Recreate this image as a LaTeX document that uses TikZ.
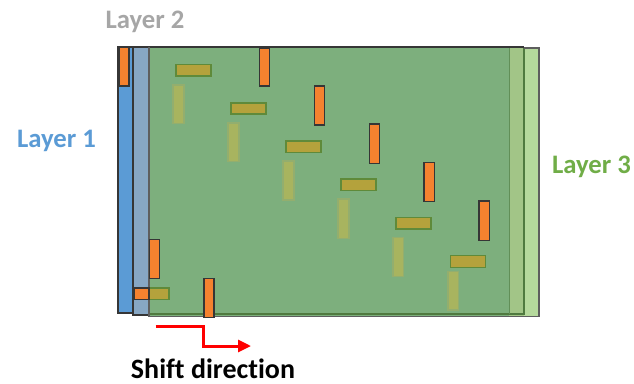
\documentclass[tikz,border=0pt]{standalone}
\usepackage{fontspec}
\setmainfont{Carlito}[Ligatures=NoCommon]
\usetikzlibrary{arrows.meta}
\definecolor{lblue}{HTML}{5B9BD5}
\definecolor{lgrey}{HTML}{87A7C4}
\definecolor{gmain}{HTML}{7DAF7D}
\definecolor{gmid}{HTML}{A2C587}
\definecolor{glight}{HTML}{B5D99C}
\definecolor{orng}{HTML}{F5822F}
\definecolor{olive}{HTML}{B4A23C}
\definecolor{oliveb}{HTML}{5F8A3A}
\definecolor{faint}{HTML}{A8B45F}
\definecolor{faintb}{HTML}{93AE6E}
\definecolor{edge}{HTML}{363636}
\definecolor{gedge}{HTML}{4F7A3F}
\definecolor{txtgrey}{HTML}{A6A6A6}
\definecolor{txtgreen}{HTML}{70AD47}
\tikzset{
  bar/.style={fill=orng,draw=edge,line width=1.4pt},
  hbar/.style={fill=olive,draw=oliveb,line width=1.2pt},
  fbar/.style={fill=faint,draw=faintb,line width=1.2pt},
  lbl/.style={font=\bfseries\fontsize{26.7}{30}\selectfont,anchor=base,inner sep=0pt},
}
\begin{document}
\begin{tikzpicture}[x=1pt,y=-1pt]
\useasboundingbox (0,0) rectangle (634,383);
% layer regions
\fill[lblue] (118,47) rectangle (133,313);
\fill[lgrey] (133,47) rectangle (149,315);
\fill[gmain] (149,47) rectangle (509,316);
\fill[gmid] (509,47) rectangle (524,316);
\fill[glight] (524,48) rectangle (539,316);
% orange bar on layer 1 (exposed)
\draw[bar] (119,47) rectangle (129,86);
% layer outlines
\draw[edge,line width=1.4pt] (118,47) rectangle (133,313);
\draw[edge,line width=1.4pt] (133,47) rectangle (149,315);
\draw[gedge,line width=1.2pt] (149,314) -- (524,314) -- (524,47);
\draw[gedge!60!gmain,line width=0.6pt] (509,47) -- (509,314);
\draw[edge,line width=1.4pt] (118,47) -- (524,47);
\draw[edge!80,line width=1.4pt] (524,48) -- (539,48) -- (539,316.5) -- (149,316.5) -- (149,47);
% faint bars (layer 1, beneath)
\draw[fbar] (173,85) rectangle (184,123.5);
\draw[fbar] (228,123) rectangle (239,161.5);
\draw[fbar] (283,161) rectangle (294,200);
\draw[fbar] (338,199) rectangle (349,238.5);
\draw[fbar] (393,237.5) rectangle (403.5,276.5);
\draw[fbar] (448,271.5) rectangle (458.5,310);
% olive bars (layer 2)
\draw[hbar] (176,64.5) rectangle (211,76);
\draw[hbar] (231,103) rectangle (266,114);
\draw[hbar] (286,141) rectangle (321,152.5);
\draw[hbar] (341,179) rectangle (376,190.5);
\draw[hbar] (396,217.5) rectangle (431,229);
\draw[hbar] (450.5,255.7) rectangle (485.7,267.3);
\fill[olive] (149,288) rectangle (169,299.5);
\draw[oliveb,line width=1.2pt] (149,288) -- (169,288) -- (169,299.5) -- (149,299.5);
\draw[bar] (134,288) rectangle (149,299.5);
% orange bars (layer 3, top)
\draw[bar] (259.5,48) rectangle (269.5,86);
\draw[bar] (314.5,86) rectangle (324.5,125);
\draw[bar] (369.3,124) rectangle (379.7,163.3);
\draw[bar] (424,162.5) rectangle (434.7,201.7);
\draw[bar] (479,201) rectangle (489.7,240.3);
\draw[bar] (149.5,239.5) rectangle (159.3,278.3);
\draw[bar] (204,278.3) rectangle (214,317.3);
% labels
\node[lbl,text=txtgrey] (l2) at (145,28.5) {Layer 2};
\node[lbl,text=lblue] (l1) at (56.5,147.5) {Layer 1};
\node[lbl,text=txtgreen] (l3) at (591.5,173) {Layer 3};
\node[lbl,text=black,font=\bfseries\fontsize{28}{32}\selectfont] (sd) at (213,378.5) {Shift direction};
% shift arrow
\coordinate (a0) at (155.5,326.7);
\coordinate (a1) at (203,326.7);
\coordinate (a2) at (203,346);
\coordinate (a3) at (251,346);
\draw[red,line width=3pt,-{Triangle[length=13pt,width=12pt]}] (a0) -- (a1) -- (a2) -- (a3);
\end{tikzpicture}
\end{document}
